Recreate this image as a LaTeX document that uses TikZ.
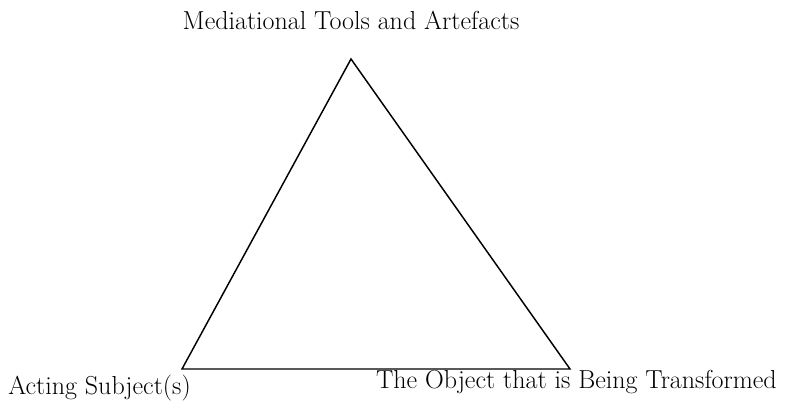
\documentclass[tikz,border=0pt]{standalone}
\usetikzlibrary{positioning}
\tikzset{
  vertex label/.style={inner sep=0pt, font=\fontsize{19.5}{22}\selectfont},
  side/.style={line width=1.1pt}
}
\begin{document}
\begin{tikzpicture}[x=0.75pt, y=-0.75pt]
                \useasboundingbox (0,0) rectangle (785,407);
                \coordinate (TOOL) at (351,59);
                \coordinate (SUBJ) at (182,369);
                \coordinate (OBJ) at (570,369);
                \node[vertex label, anchor=base](TOOLL) at (351,29) {Mediational Tools and Artefacts};
                \node[vertex label, anchor=base west](SUBJL) at (8,394) {Acting Subject(s)};
                \node[vertex label, anchor=base east](OBJL) at (777,388) {The Object that is Being Transformed};
                \draw[side] (TOOL) -- (OBJ) -- (SUBJ) -- cycle;
            \end{tikzpicture}
\end{document}
